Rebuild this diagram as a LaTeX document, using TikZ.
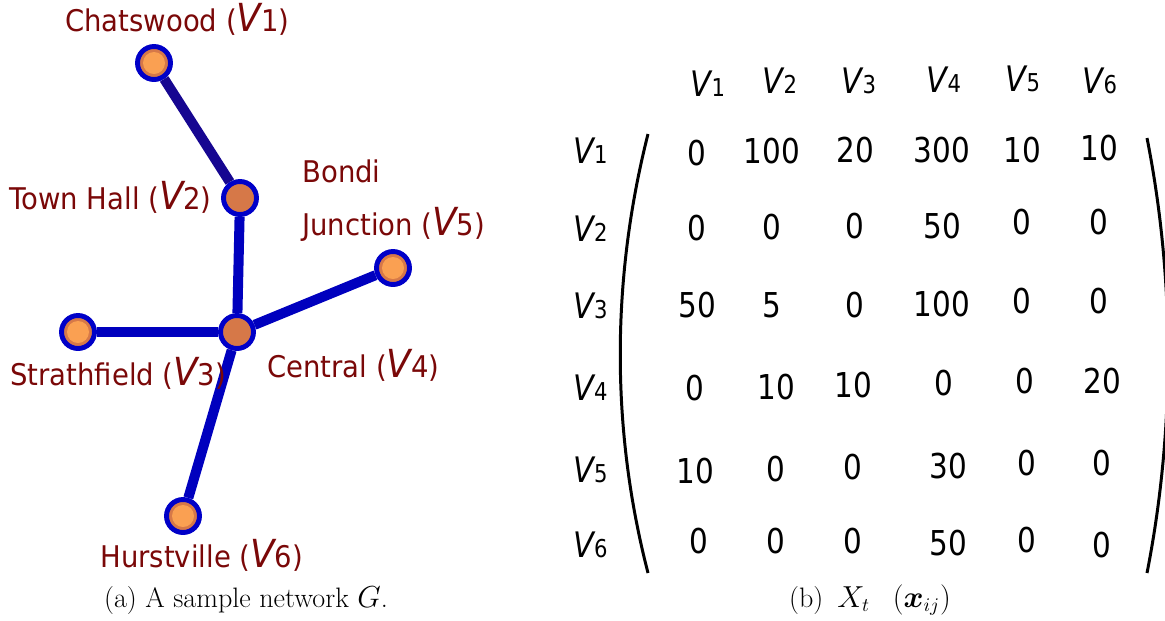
\documentclass[tikz,border=0pt]{standalone}
\usepackage{fontspec}
\usepackage{bm}
\newfontfamily\sansstretch[FakeStretch=0.92]{DejaVu Sans}
\newfontfamily\cellstretch[FakeStretch=0.86]{DejaVu Sans}

\definecolor{placered}{RGB}{122,8,8}
\definecolor{nodeblue}{RGB}{0,0,200}
\definecolor{edgeblue}{RGB}{0,0,190}
\definecolor{edgenavy}{RGB}{22,6,145}
\definecolor{darkorange}{RGB}{214,120,72}
\definecolor{lightorange}{RGB}{250,160,82}

\newcommand{\lblfont}{\sansstretch\fontsize{17}{20}\selectfont}
\newcommand{\cellfont}{\cellstretch\fontsize{19.5}{22}\selectfont}
\newcommand{\stn}[1]{({\fontsize{22}{22}\selectfont\itshape V}#1)}
\newcommand{\vm}[1]{{\fontsize{20}{20}\selectfont\itshape V}{\fontsize{14}{14}\selectfont #1}}

\tikzset{
  station/.style={circle, draw=nodeblue, line width=2.8pt, fill=darkorange,
    minimum size=0.66cm, inner sep=0pt},
  stop/.style={station, path picture={
    \fill[lightorange] (path picture bounding box.center) circle (0.22cm);}},
  track/.style={line width=5.7pt, draw=edgeblue},
  place/.style={font=\lblfont, text=placered, inner sep=0pt, anchor=base west},
  cell/.style={font=\cellfont, inner sep=0pt, anchor=base},
  caption/.style={font=\fontsize{16}{18}\selectfont, inner sep=0pt, anchor=base}
}

\begin{document}
\begin{tikzpicture}[x=0.02cm, y=-0.02cm]

\useasboundingbox (0,0) rectangle (1165,620);

\node[stop] (v1) at (154,63) {};
\node[station] (v2) at (240,198) {};
\node[stop] (v3) at (78,332) {};
\node[station] (v4) at (237,332) {};
\node[stop] (v5) at (393,268) {};
\node[stop] (v6) at (183,516) {};

\draw[track, draw=edgenavy] (v1) -- (v2);
\draw[track] (v2) -- (v4);
\draw[track] (v3) -- (v4);
\draw[track] (v4) -- (v5);
\draw[track] (v4) -- (v6);

\node[place] (l1) at (65,31) {Chatswood \stn{1}};
\node[place] (l2) at (9,209) {Town Hall \stn{2}};
\node[place] (l5a) at (302,182) {Bondi};
\node[place] (l5) at (302,235) {Junction \stn{5}};
\node[place] (l3) at (10,385) {Strathfield \stn{3}};
\node[place] (l4) at (267,377) {Central \stn{4}};
\node[place] (l6) at (100,567) {Hurstville \stn{6}};

\foreach \i/\x/\y in {1/708/96, 2/780/93, 3/859/93, 4/944/92, 5/1023/91, 6/1100/93}
  \node[cell] (h\i) at (\x,\y) {\vm{\i}};

\foreach \i/\y in {1/163, 2/241, 3/318, 4/400, 5/482, 6/557}
  \node[cell, anchor=base west] (r\i) at (573,\y) {\vm{\i}};

\foreach \v/\x/\y [count=\c] in {0/697/165, 100/772/163, 20/855/162, 300/942/162, 10/1022/162, 10/1099/160}
  \node[cell] (m1-\c) at (\x,\y) {\v};
\foreach \v/\x/\y [count=\c] in {0/697/240, 0/772/239, 0/855/238, 50/942/238, 0/1022/234, 0/1099/234}
  \node[cell] (m2-\c) at (\x,\y) {\v};
\foreach \v/\x/\y [count=\c] in {50/697/317, 5/772/317, 0/855/317, 100/942/316, 0/1022/313, 0/1099/313}
  \node[cell] (m3-\c) at (\x,\y) {\v};
\foreach \v/\x/\y [count=\c] in {0/695/400, 10/776/399, 10/853/397, 0/944/395, 0/1025/393, 20/1102/393}
  \node[cell] (m4-\c) at (\x,\y) {\v};
\foreach \v/\x/\y [count=\c] in {10/695/483, 0/776/481, 0/853/479, 30/948/478, 0/1027/475, 0/1102/475}
  \node[cell] (m5-\c) at (\x,\y) {\v};
\foreach \v/\x/\y [count=\c] in {0/699/553, 0/776/553, 0/853/553, 50/948/555, 0/1027/552, 0/1102/557}
  \node[cell] (m6-\c) at (\x,\y) {\v};

\draw[line width=1.7pt] (648,134) .. controls (611,280) and (611,430) .. (648,573);
\draw[line width=1.7pt] (1147,138) .. controls (1175,280) and (1175,430) .. (1147,573);

\node[caption] (capa) at (246,607) {(a) A sample network $G$.};
\node[caption] (capb) at (870,607) {(b)\hspace{8pt}$X_t$\hspace{13pt}$(\bm{x}_{ij})$};

\end{tikzpicture}
\end{document}
